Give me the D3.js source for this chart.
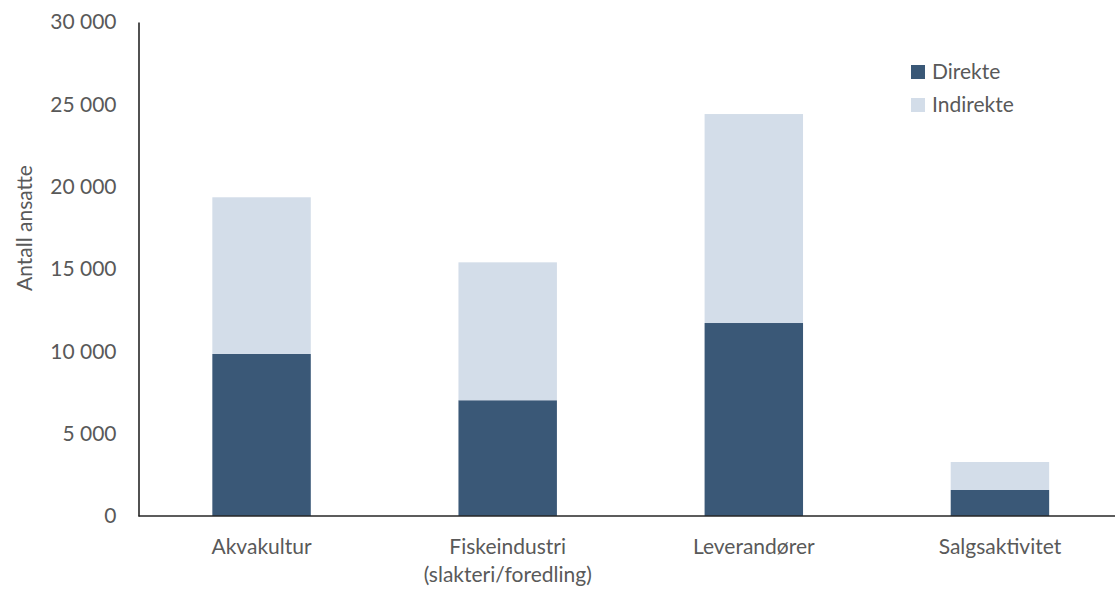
<!DOCTYPE html>
<html>
<head>
<meta charset="utf-8">
<script src="https://cdn.jsdelivr.net/npm/d3@7"></script>
<style>
  body { margin: 0; background: #fff; }
  svg { display: block; font-family: Lato, "Open Sans", sans-serif; }
</style>
</head>
<body>
<svg id="chart" width="1115" height="590"></svg>
<script>
// Sysselsetting per næringsledd
const categories = ["Akvakultur", "Fiskeindustri\n(slakteri/foredling)", "Leverandører", "Salgsaktivitet"];
const direkte = [9840, 7030, 11720, 1580];
const indirekte = [9515, 8375, 12690, 1700];
const seriesNames = ["Direkte", "Indirekte"];
const seriesColors = ["#3A5877", "#D3DDE9"];
const yTicks = [0, 5000, 10000, 15000, 20000, 25000, 30000];

const svg = d3.select("#chart");
const margin = { left: 138.5, right: -8, top: 22, bottom: 74 };
const W = 1115, H = 590;
const FS = 21;
const textColor = "#595959";

const x = d3.scaleBand()
  .domain(categories)
  .range([margin.left, W - margin.right])
  .paddingInner(0.6)
  .paddingOuter(0.3);

const y = d3.scaleLinear()
  .domain([0, 30000])
  .range([H - margin.bottom, margin.top]);

const fmt = v => d3.format(",")(v).replace(/,/g, " ");

const rows = categories.map((c, i) => ({ cat: c, Direkte: direkte[i], Indirekte: indirekte[i] }));
const stacked = d3.stack().keys(seriesNames)(rows);

svg.append("g")
  .selectAll("g")
  .data(stacked)
  .join("g")
  .attr("fill", (d, i) => seriesColors[i])
  .selectAll("rect")
  .data(d => d)
  .join("rect")
  .attr("x", d => x(d.data.cat))
  .attr("width", x.bandwidth())
  .attr("y", d => y(d[1]))
  .attr("height", d => y(d[0]) - y(d[1]));

// Y axis
const yAxis = svg.append("g")
  .attr("transform", `translate(${margin.left},0)`)
  .call(d3.axisLeft(y).tickValues(yTicks).tickFormat(fmt).tickSize(0).tickPadding(22));
yAxis.select(".domain").attr("stroke", "#262626").attr("stroke-width", 1.6);
yAxis.selectAll("text").attr("fill", textColor).attr("font-size", FS).attr("font-family", "Lato, 'Open Sans', sans-serif");

// X axis
const xAxis = svg.append("g")
  .attr("transform", `translate(0,${y(0)})`)
  .call(d3.axisBottom(x).tickSize(0).tickFormat(""));
xAxis.select(".domain").attr("d", `M${margin.left},0H${W}`).attr("stroke", "#262626").attr("stroke-width", 1.6);

xAxis.selectAll(".tick").each(function(d) {
  const t = d3.select(this).append("text")
    .attr("fill", textColor)
    .attr("font-size", FS)
    .attr("font-family", "Lato, 'Open Sans', sans-serif")
    .attr("text-anchor", "middle");
  d.split("\n").forEach((line, i) => {
    t.append("tspan").attr("x", 0).attr("y", 38 + i * 28).text(line);
  });
});

// Y axis title
svg.append("text")
  .attr("transform", `translate(32,228) rotate(-90)`)
  .attr("text-anchor", "middle")
  .attr("fill", textColor)
  .attr("font-size", FS)
  .text("Antall ansatte");

// Legend
const legend = svg.append("g").attr("transform", "translate(911,65)");
seriesNames.forEach((name, i) => {
  const g = legend.append("g").attr("transform", `translate(0,${i * 33})`);
  g.append("rect").attr("width", 14).attr("height", 14).attr("fill", seriesColors[i]);
  g.append("text").attr("x", 21).attr("y", 13.5).attr("fill", textColor).attr("font-size", FS).text(name);
});
</script>
</body>
</html>
